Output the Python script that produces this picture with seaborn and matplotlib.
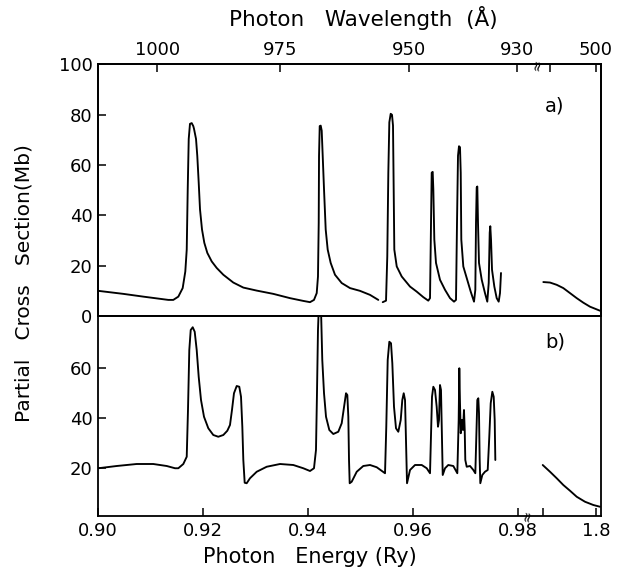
import numpy as np
import matplotlib
matplotlib.use("Agg")
import matplotlib.pyplot as plt
import matplotlib.transforms as mtransforms
import matplotlib.ticker as mticker
import seaborn as sns

# ---------------- data ----------------
# panel a) : partial cross section (Mb) vs photon energy (Ry)
a_E1 = [0.90006, 0.90482, 0.90863, 0.91339, 0.91434, 0.91530, 0.91613, 0.91663,
        0.91690, 0.91709, 0.91728, 0.91752, 0.91785, 0.91815, 0.91829, 0.91867,
        0.91891, 0.91918, 0.91943, 0.91981, 0.92025, 0.92082, 0.92166, 0.92261,
        0.92387, 0.92577, 0.92768, 0.93023, 0.93339, 0.93657, 0.93910, 0.94038,
        0.94114, 0.94166, 0.94190, 0.94204, 0.94210, 0.94223, 0.94242, 0.94261,
        0.94280, 0.94305, 0.94337, 0.94375, 0.94432, 0.94514, 0.94642, 0.94800,
        0.94990, 0.95181, 0.95339]
a_cs1 = [10.0, 8.8, 7.7, 6.4, 6.4, 7.7, 11.1, 17.7,
         26.4, 50.4, 70.4, 76.4, 76.7, 75.5, 74.4, 70.4,
         63.7, 53.1, 42.4, 34.4, 29.1, 25.1, 21.7, 19.1,
         16.4, 13.3, 11.3, 10.1, 8.8, 7.1, 6.0, 5.5,
         6.4, 9.1, 15.7, 37.0, 63.7, 75.5, 75.7, 73.7,
         63.7, 50.4, 34.4, 26.4, 21.1, 16.4, 13.1, 11.1,
         10.0, 8.4, 6.4]
a_E2 = [0.95423, 0.95486, 0.95510, 0.95530, 0.95549, 0.95575, 0.95600, 0.95619,
        0.95632, 0.95644, 0.95690, 0.95785, 0.95943, 0.96070, 0.96196, 0.96291,
        0.96324, 0.96343, 0.96356, 0.96375, 0.96387, 0.96406, 0.96438, 0.96514,
        0.96610, 0.96705, 0.96781, 0.96819, 0.96838, 0.96857, 0.96876, 0.96895,
        0.96909, 0.96920, 0.96958, 0.97023, 0.97099, 0.97162, 0.97187, 0.97200,
        0.97213, 0.97225, 0.97238, 0.97257, 0.97309, 0.97371, 0.97415, 0.97442,
        0.97461, 0.97472, 0.97486, 0.97505, 0.97549, 0.97594, 0.97632, 0.97657,
        0.97676]
a_cs2 = [5.5, 6.1, 23.7, 57.0, 77.0, 80.4, 80.0, 75.7,
         50.4, 26.4, 19.7, 15.7, 11.7, 9.7, 7.5, 6.1,
         7.1, 37.0, 57.0, 57.3, 50.4, 30.4, 21.1, 14.4,
         10.4, 7.1, 5.7, 6.4, 37.0, 63.7, 67.5, 67.1,
         57.0, 30.4, 19.7, 15.1, 9.7, 5.7, 10.4, 37.0,
         51.1, 51.5, 37.0, 21.1, 14.4, 9.1, 5.7, 13.1,
         33.1, 35.7, 30.4, 18.4, 11.7, 7.1, 5.7, 9.1,
         17.1]
a_E3 = [1.5709, 1.6000, 1.6291, 1.6578, 1.6870, 1.7161, 1.7448, 1.7739, 1.8174]
a_cs3 = [13.5, 13.3, 12.4, 11.1, 9.1, 7.1, 5.3, 3.7, 2.1]

# panel b)
b_E1 = [0.90006, 0.90356, 0.90737, 0.91053, 0.91309, 0.91467, 0.91530, 0.91625,
        0.91690, 0.91714, 0.91739, 0.91766, 0.91804, 0.91842, 0.91880, 0.91918,
        0.91962, 0.92019, 0.92101, 0.92196, 0.92291, 0.92387, 0.92463, 0.92514,
        0.92552, 0.92590, 0.92642, 0.92691, 0.92724, 0.92749, 0.92768, 0.92794,
        0.92832, 0.92895, 0.93023, 0.93213, 0.93467, 0.93720, 0.93910, 0.94038,
        0.94114, 0.94152, 0.94171, 0.94190, 0.94204, 0.94225, 0.94248, 0.94272,
        0.94305, 0.94343, 0.94406, 0.94482, 0.94577, 0.94642, 0.94686, 0.94724,
        0.94749, 0.94768, 0.94781, 0.94794, 0.94832, 0.94928, 0.95053, 0.95181,
        0.95309, 0.95467, 0.95491, 0.95518, 0.95549, 0.95581, 0.95606, 0.95638,
        0.95676, 0.95720, 0.95766, 0.95796, 0.95823, 0.95848, 0.95867, 0.95886,
        0.95943, 0.96038, 0.96166, 0.96261, 0.96324, 0.96343, 0.96362, 0.96387,
        0.96419, 0.96451, 0.96476, 0.96495, 0.96514, 0.96533, 0.96552, 0.96566,
        0.96610, 0.96672, 0.96768, 0.96844, 0.96870, 0.96882, 0.96895, 0.96909,
        0.96933, 0.96952, 0.96971, 0.96985, 0.96996, 0.97023, 0.97086, 0.97149,
        0.97187, 0.97206, 0.97225, 0.97244, 0.97257, 0.97270, 0.97282, 0.97320,
        0.97371, 0.97423, 0.97453, 0.97480, 0.97511, 0.97537, 0.97556, 0.97568]
b_cs1 = [19.9, 20.8, 21.6, 21.6, 20.8, 19.9, 19.9, 21.6,
         24.5, 43.2, 67.2, 75.2, 76.3, 74.5, 67.2, 56.5,
         47.2, 40.5, 35.9, 33.2, 32.5, 33.2, 34.9, 37.2,
         43.2, 49.9, 52.8, 52.5, 48.5, 36.5, 23.2, 14.1,
         13.9, 15.9, 18.5, 20.5, 21.6, 21.2, 19.9, 18.8,
         19.9, 27.2, 49.9, 75.2, 83.2, 88.0, 83.2, 63.2,
         49.9, 40.5, 35.2, 33.6, 34.5, 37.9, 44.5, 49.9,
         49.2, 40.5, 23.2, 13.9, 14.5, 18.5, 20.8, 21.2,
         20.3, 17.9, 36.5, 63.2, 70.5, 69.9, 61.9, 44.5,
         35.9, 34.5, 39.2, 47.2, 49.9, 47.2, 29.9, 13.9,
         19.2, 21.2, 21.2, 19.9, 17.9, 32.5, 48.5, 52.5,
         51.2, 44.5, 36.5, 39.2, 53.2, 51.2, 32.5, 17.2,
         19.9, 21.2, 20.8, 17.9, 39.2, 59.9, 45.9, 33.9,
         39.2, 35.2, 43.2, 35.2, 23.2, 20.5, 20.8, 19.2,
         17.9, 32.5, 47.2, 47.9, 41.9, 23.2, 13.9, 17.2,
         18.5, 19.2, 32.5, 45.9, 50.5, 48.5, 39.2, 23.2]
b_E2 = [1.5683, 1.6000, 1.6291, 1.6578, 1.6870, 1.7161, 1.7522, 1.7883, 1.8174]
b_cs2 = [21.2, 18.5, 15.9, 13.2, 10.9, 8.5, 6.5, 5.2, 4.5]

# axis ticks
energy_ticks = [0.90, 0.92, 0.94, 0.96, 0.98, 1.57, 1.80]
energy_ticklabels = ["0.90", "0.92", "0.94", "0.96", "0.98", "", "1.8"]
wavelength_values = [1000, 975, 950, 930]
wavelength_labels = ["1000", "975", "950", "930"]
wavelength_extra_E = [1.60, 1.80]
wavelength_extra_labels = ["", "500"]
yticks_a = [0, 20, 40, 60, 80, 100]
yticks_b = [20, 40, 60]
RY_IN_ANGSTROM = 911.27

# broken energy axis: 0.90-0.98 linear, then compressed gap, then high-energy part
BREAK_LO, BREAK_HI = 0.98, 1.5435
GAP = 0.00362
K = 0.04381
XMAX = 1.8217


def fwd(x):
    x = np.asarray(x, dtype=float)
    return np.where(x <= BREAK_LO, x,
                    np.where(x < BREAK_HI,
                             BREAK_LO + (x - BREAK_LO) / (BREAK_HI - BREAK_LO) * GAP,
                             BREAK_LO + GAP + (x - BREAK_HI) * K))


def inv(y):
    y = np.asarray(y, dtype=float)
    return np.where(y <= BREAK_LO, y,
                    np.where(y < BREAK_LO + GAP,
                             BREAK_LO + (y - BREAK_LO) / GAP * (BREAK_HI - BREAK_LO),
                             BREAK_HI + (y - BREAK_LO - GAP) / K))


sns.set_style("ticks")
plt.rcParams["font.family"] = ["DejaVu Sans"]
plt.rcParams["text.color"] = "black"
plt.rcParams["axes.labelcolor"] = "black"
plt.rcParams["xtick.color"] = "black"
plt.rcParams["ytick.color"] = "black"

W, H = 631, 573
fig = plt.figure(figsize=(W / 100, H / 100), dpi=100)
L, R = 98 / W, 601 / W
ax_a = fig.add_axes([L, 1 - 316 / H, R - L, (316 - 64.5) / H])
ax_b = fig.add_axes([L, 1 - 516 / H, R - L, (516 - 316) / H])

line_kw = dict(color="black", linewidth=1.35, sort=False, estimator=None)
for xs, ys in [(a_E1, a_cs1), (a_E2, a_cs2), (a_E3, a_cs3)]:
    sns.lineplot(x=xs, y=ys, ax=ax_a, **line_kw)
for xs, ys in [(b_E1, b_cs1), (b_E2, b_cs2)]:
    sns.lineplot(x=xs, y=ys, ax=ax_b, **line_kw)

TICKSIZE = 13
for ax in (ax_a, ax_b):
    ax.set_xscale("function", functions=(fwd, inv))
    ax.set_xlim(0.90, XMAX)
    ax.xaxis.set_minor_locator(mticker.NullLocator())
    ax.yaxis.set_minor_locator(mticker.NullLocator())
    for s in ax.spines.values():
        s.set_visible(True)
        s.set_linewidth(1.3)
        s.set_color("black")
    ax.tick_params(direction="in", length=6, width=1.1, labelsize=TICKSIZE,
                   colors="black", labelcolor="black", pad=4)
    ax.set_xlabel("")
    ax.set_ylabel("")

ax_a.set_ylim(0, 100)
ax_a.set_yticks(yticks_a)
ax_a.set_xticks([])
ax_b.set_ylim(0.8, 80.8)
ax_b.set_yticks(yticks_b)
ax_b.set_xticks(energy_ticks)
ax_b.set_xticklabels(energy_ticklabels)
ax_b.xaxis.set_minor_locator(mticker.NullLocator())

# top wavelength axis
ax_top = ax_a.twiny()
ax_top.set_xscale("function", functions=(fwd, inv))
ax_top.set_xlim(0.90, XMAX)
top_E = [RY_IN_ANGSTROM / w for w in wavelength_values] + wavelength_extra_E
ax_top.set_xticks(top_E)
ax_top.set_xticklabels(wavelength_labels + wavelength_extra_labels)
ax_top.xaxis.set_minor_locator(mticker.NullLocator())
ax_top.tick_params(direction="in", length=6, width=1.1, labelsize=TICKSIZE,
                   colors="black", labelcolor="black", pad=4)
ax_top.set_xlabel("Photon   Wavelength  (Å)", fontsize=15.5, color="black")
ax_top.xaxis.set_label_coords((363 - 98) / 503, 1.0 + 38 / 251.5)
for s in ax_top.spines.values():
    s.set_linewidth(1.3)
    s.set_color("black")

ax_b.set_xlabel("Photon   Energy (Ry)", fontsize=15, color="black")
ax_b.xaxis.set_label_coords((310 - 98) / 503, -31 / 200)

fig.text(24 / W, 1 - 283 / H, "Partial   Cross   Section(Mb)", rotation=90,
         ha="center", va="center", fontsize=14.5, color="black")

ax_a.text(0.907, 0.835, "a)", transform=ax_a.transAxes, fontsize=14, ha="center", va="center")
ax_b.text(0.91, 0.87, "b)", transform=ax_b.transAxes, fontsize=14, ha="center", va="center")

# axis-break marks
blend_b = mtransforms.blended_transform_factory(ax_b.transData, ax_b.transAxes)
blend_t = mtransforms.blended_transform_factory(ax_top.transData, ax_top.transAxes)
ax_b.text(1.246, 0.0, "≈", transform=blend_b, rotation=80, fontsize=10,
          ha="center", va="center", clip_on=False)
ax_top.text(1.5435, 1.0, "≈", transform=blend_t, rotation=80, fontsize=10,
            ha="center", va="center", clip_on=False)

fig.savefig("out.png", dpi=100, facecolor="white")
